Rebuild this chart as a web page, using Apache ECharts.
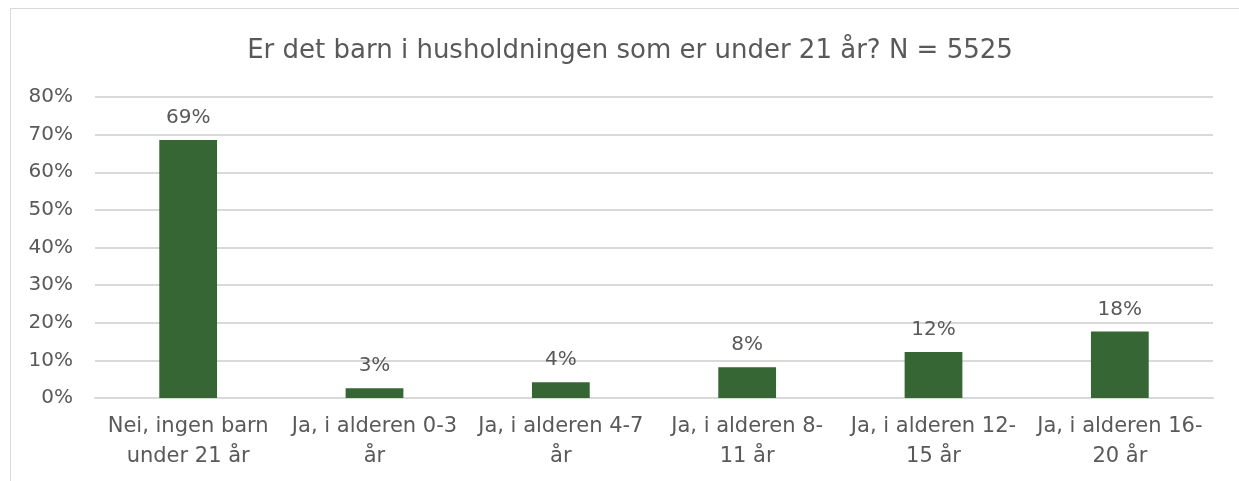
<!DOCTYPE html>
<html>
<head>
<meta charset="utf-8">
<script src="https://cdn.jsdelivr.net/npm/echarts@6/dist/echarts.min.js"></script>
<style>
  html, body { margin: 0; padding: 0; background: #fff; }
  #frame {
    position: absolute; left: 10px; top: 8px; width: 1240px; height: 480px;
    border: 1px solid #d9d9d9; box-sizing: border-box;
  }
  #chart { position: absolute; left: 0; top: 0; width: 1239px; height: 481px; }
</style>
</head>
<body>
<div id="frame"></div>
<div id="chart"></div>
<script>
const titleText = "Er det barn i husholdningen som er under 21 år? N = 5525";
const categories = [
  "Nei, ingen barn\nunder 21 år",
  "Ja, i alderen 0-3\når",
  "Ja, i alderen 4-7\når",
  "Ja, i alderen 8-\n11 år",
  "Ja, i alderen 12-\n15 år",
  "Ja, i alderen 16-\n20 år",
];
const shares = [68.6, 2.6, 4.2, 8.2, 12.2, 17.7];

const textColor = "#595959";
const font = "DejaVu Sans, Liberation Sans, sans-serif";

const chart = echarts.init(document.getElementById("chart"));

chart.setOption({
  backgroundColor: "transparent",
  animation: false,
  title: {
    text: titleText,
    left: 625,
    textAlign: "center",
    top: 33,
    textStyle: { color: textColor, fontSize: 26, fontWeight: "normal", fontFamily: font },
  },
  grid: {
    left: 95,
    right: 26,
    top: 97,
    bottom: 83,
  },
  xAxis: {
    type: "category",
    data: categories,
    axisLine: { lineStyle: { color: "#d9d9d9", width: 2 } },
    axisTick: { show: false },
    axisLabel: {
      color: textColor,
      fontSize: 21,
      fontFamily: font,
      lineHeight: 30,
      margin: 14,
      interval: 0,
    },
  },
  yAxis: {
    type: "value",
    min: 0,
    max: 80,
    interval: 10,
    axisLine: { show: false },
    axisTick: { show: false },
    splitLine: { lineStyle: { color: "#d9d9d9", width: 2 } },
    axisLabel: {
      color: textColor,
      fontSize: 20,
      fontFamily: font,
      margin: 22,
      formatter: (v) => `${v}%`,
    },
  },
  series: [
    {
      type: "bar",
      data: shares,
      barWidth: "31%",
      itemStyle: { color: "#356633" },
      label: {
        show: true,
        position: "top",
        distance: 12,
        color: textColor,
        fontSize: 20,
        fontFamily: font,
        formatter: (p) => `${Math.round(p.value)}%`,
      },
    },
  ],
});
</script>
</body>
</html>
